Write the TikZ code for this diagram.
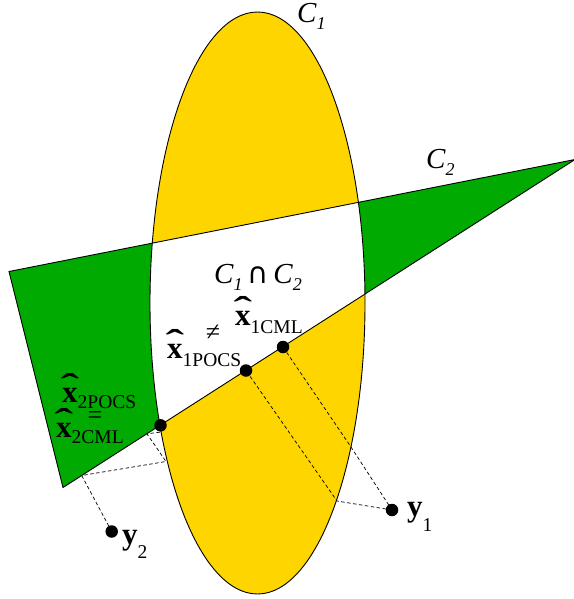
\documentclass[tikz,border=0pt]{standalone}
\usepackage{fontspec}
\setmainfont{Liberation Serif}
\newfontfamily\symf{DejaVu Sans}
\definecolor{gold}{RGB}{255,213,0}
\definecolor{grn}{RGB}{0,170,0}
\newsavebox\hxb
\newcommand\hx{\sbox\hxb{\bfseries x}\makebox[0pt][l]{\makebox[\wd\hxb][c]{\raisebox{5pt}{\scalebox{1.8}[1.1]{\bfseries\symbol{"02C6}}}}}\usebox\hxb}
\newcommand\bigf{\fontsize{31}{31}\selectfont}
\newcommand\subf{\fontsize{19.5}{19.5}\selectfont}
\newcommand\cf{\fontsize{29}{29}\selectfont\itshape}
\newcommand\csub[1]{\raisebox{-7pt}{\fontsize{18}{18}\selectfont\itshape #1}}
\begin{document}
\begin{tikzpicture}[x=1pt,y=-1pt,
  outl/.style={draw=black,line width=0.9pt},
  proj/.style={draw=black,line width=0.7pt,dash pattern=on 3.5pt off 2.5pt},
  dotn/.style={circle,fill=black,inner sep=0pt,minimum size=12.5pt},
  lbl/.style={inner sep=0pt,anchor=base west}]
\useasboundingbox (0,0) rectangle (573,599);
% shapes
\coordinate (A) at (9,271.5);
\coordinate (B) at (575,159.5);
\coordinate (C) at (63,487.5);
\fill[gold] (257.5,303) ellipse [x radius=107.5, y radius=291];
\fill[grn] (A) -- (B) -- (C) -- cycle;
\begin{scope}
  \clip (257.5,303) ellipse [x radius=107.5, y radius=291];
  \fill[white] (A) -- (B) -- (C) -- cycle;
\end{scope}
\draw[outl] (257.5,303) ellipse [x radius=107.5, y radius=291];
\draw[outl,line join=miter] (A) -- (B) -- (C) -- cycle;
% points
\node[dotn] (x2) at (160.5,425.3) {};
\node[dotn] (x1p) at (246,370.5) {};
\node[dotn] (x1c) at (283,347) {};
\node[dotn] (y1) at (392,510) {};
\node[dotn] (y2) at (111.7,531.5) {};
\coordinate (e1) at (337,501);
\coordinate (e2) at (351,447);
\coordinate (p) at (81.7,475.5);
\coordinate (q) at (166,461.5);
\coordinate (r) at (147,433.8);
\coordinate (s) at (161.3,432);
\draw[proj] (y1.center) -- (e1) -- (x1p.center);
\draw[proj] (y1.center) -- (e2) -- (x1c.center);
\draw[proj] (y2.center) -- (p) -- (q) -- (r) -- (s) -- (x2.center);
% labels
\node[lbl] (c1) at (297,23) {\cf C\csub{1}};
\node[lbl] (c2) at (426,168) {\cf C\csub{2}};
\node[lbl] (c12) at (214,283) {\cf C\csub{1}\,{\upshape\symf\fontsize{29}{29}\selectfont ∩}\,C\csub{2}};
\node[lbl] (l1c) at (235,325) {\bigf\hx\raisebox{-8pt}{\subf 1CML}};
\node[lbl] (l1p) at (167,358) {\bigf\hx\raisebox{-8.5pt}{\subf 1POCS}};
\node[inner sep=0pt] (neq) at (213,333) {\fontsize{26}{26}\selectfont ≠};
\node[lbl] (l2p) at (62,402) {\bigf\hx\raisebox{-6pt}{\subf 2POCS}};
\node[inner sep=0pt] (eq) at (95,418) {\fontsize{26}{26}\selectfont =};
\node[lbl] (l2c) at (56,437) {\bigf\hx\raisebox{-6pt}{\subf 2CML}};
\node[lbl] (ly1) at (407,516) {\bigf\bfseries y\raisebox{-15pt}{\subf\mdseries 1}};
\node[lbl] (ly2) at (122,544) {\bigf\bfseries y\raisebox{-14pt}{\subf\mdseries 2}};
\end{tikzpicture}
\end{document}
